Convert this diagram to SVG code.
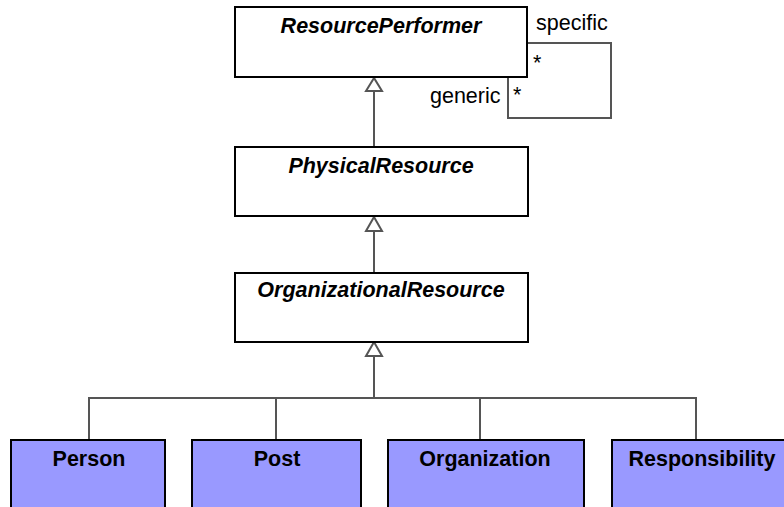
<svg xmlns="http://www.w3.org/2000/svg" width="784" height="507" viewBox="0 0 784 507">
<style>
.abs{fill:#fff;stroke:#000;stroke-width:2}
.leaf{fill:#9999ff;stroke:#000;stroke-width:2}
.t{font-family:"Liberation Sans",Arial,sans-serif;font-size:21.5px;font-weight:bold;text-anchor:middle;fill:#000}
.i{font-style:italic}
.lbl{font-family:"Liberation Sans",Arial,sans-serif;font-size:21.5px;fill:#000}
.c{fill:none;stroke:#555;stroke-width:2}
.tri{fill:#fff;stroke:#555;stroke-width:2}
</style>
<rect width="784" height="507" fill="#fff"/>
<g id="connectors">
<polyline class="c" points="527,43 611,43 611,118 508,118 508,77"/>
<line class="c" x1="374" y1="91" x2="374" y2="147"/>
<polygon class="tri" points="374,78 366,91 382,91"/>
<line class="c" x1="374" y1="231" x2="374" y2="272"/>
<polygon class="tri" points="374,217 366,231 382,231"/>
<line class="c" x1="374" y1="356" x2="374" y2="398"/>
<polygon class="tri" points="374,342 366,356 382,356"/>
<polyline class="c" points="89,440 89,398 696,398 696,440"/>
<line class="c" x1="276" y1="398" x2="276" y2="440"/>
<line class="c" x1="480" y1="398" x2="480" y2="440"/>
<text class="lbl" x="536" y="30">specific</text>
<text class="lbl" x="533" y="70">*</text>
<text class="lbl" x="430" y="103">generic</text>
<text class="lbl" x="513" y="102">*</text>
</g>
<g id="ResourcePerformer">
<rect class="abs" x="235" y="7" width="292" height="70"/>
<text class="t i" x="381" y="33">ResourcePerformer</text>
</g>
<g id="PhysicalResource">
<rect class="abs" x="235" y="147" width="293" height="69"/>
<text class="t i" x="381" y="173">PhysicalResource</text>
</g>
<g id="OrganizationalResource">
<rect class="abs" x="235" y="273" width="293" height="69"/>
<text class="t i" x="381" y="297">OrganizationalResource</text>
</g>
<g id="Person">
<rect class="leaf" x="11" y="440" width="154" height="80"/>
<text class="t" x="89" y="466">Person</text>
</g>
<g id="Post">
<rect class="leaf" x="192" y="440" width="169" height="80"/>
<text class="t" x="277" y="466">Post</text>
</g>
<g id="Organization">
<rect class="leaf" x="388" y="440" width="196" height="80"/>
<text class="t" x="485" y="466">Organization</text>
</g>
<g id="Responsibility">
<rect class="leaf" x="612" y="440" width="200" height="80"/>
<text class="t" x="702" y="466">Responsibility</text>
</g>
</svg>
